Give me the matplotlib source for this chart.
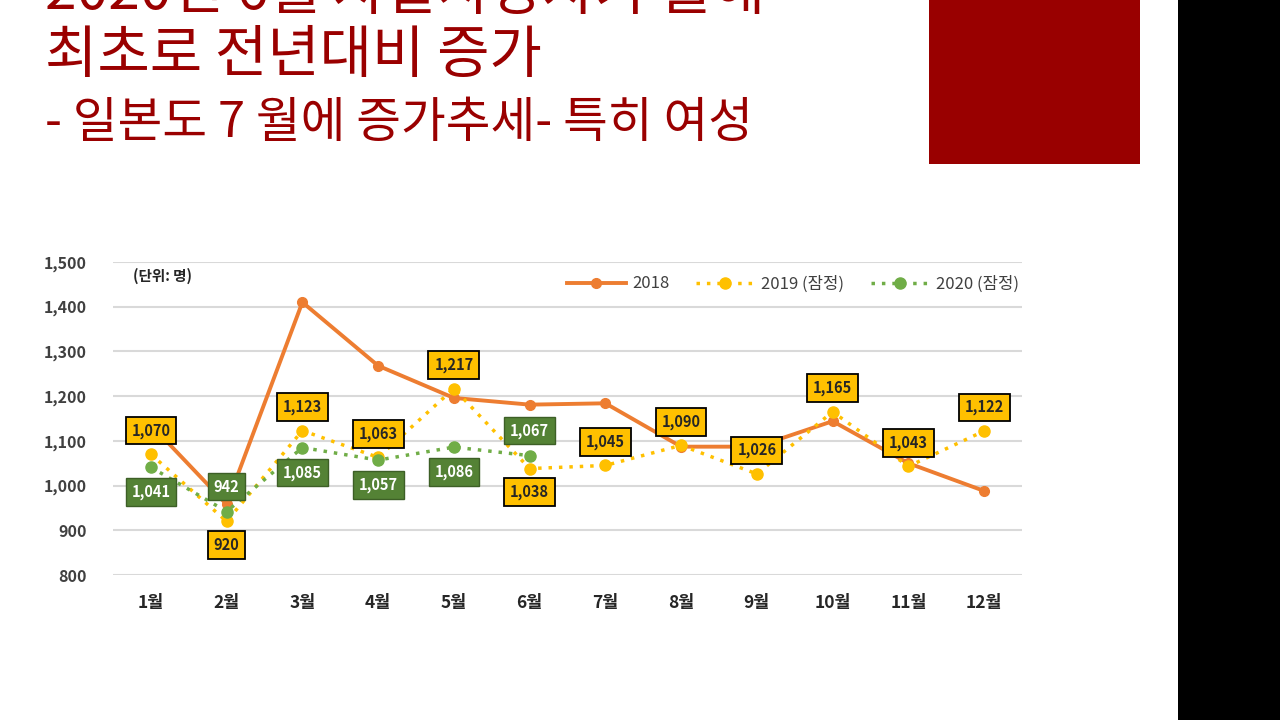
import numpy as np
import matplotlib.pyplot as plt
from matplotlib.patches import Rectangle

plt.rcParams['font.family'] = ['Noto Sans CJK KR', 'DejaVu Sans']

MONTHS = ['1월', '2월', '3월', '4월', '5월', '6월', '7월', '8월', '9월', '10월', '11월', '12월']
Y2018 = [1136, 958, 1410, 1268, 1196, 1181, 1184, 1087, 1087, 1144, 1050, 988]
Y2019 = [1070, 920, 1123, 1063, 1217, 1038, 1045, 1090, 1026, 1165, 1043, 1122]
Y2020 = [1041, 942, 1085, 1057, 1086, 1067]
# label above (+1) or below (-1) the point
POS2019 = [1, -1, 1, 1, 1, -1, 1, 1, 1, 1, 1, 1]
POS2020 = [-1, 1, -1, -1, -1, 1]
YTICKS = [800, 900, 1000, 1100, 1200, 1300, 1400, 1500]

TITLE1 = '2020년 6월 자살사망자가 올해'
TITLE2 = '최초로 전년대비 증가'
TITLE3 = '- 일본도 7 월에 증가추세- 특히 여성'

RED = '#9a0000'
ORANGE = '#ED7D31'
YELLOW = '#FFC000'
GREEN = '#70AD47'
DGREEN = '#548235'

fig = plt.figure(figsize=(12.8, 7.2), dpi=100)
fig.patch.set_facecolor('white')

# slide decorations
fig.add_artist(Rectangle((1178 / 1280, 0), 102 / 1280, 1, transform=fig.transFigure,
                         facecolor='black', edgecolor='none'))
fig.add_artist(Rectangle((929 / 1280, 1 - 164 / 720), 211 / 1280, 164 / 720,
                         transform=fig.transFigure, facecolor='#990000', edgecolor='none'))

# first title line is cut by the top edge, as in the slide
fig.text(45 / 1280, 1 - (-7) / 720, TITLE1, fontsize=41, color=RED, va='center', ha='left')
fig.text(45 / 1280, 1 - 56 / 720, TITLE2, fontsize=41, color=RED, va='center', ha='left')
fig.text(45 / 1280, 1 - 123 / 720, TITLE3, fontsize=35, color=RED, va='center', ha='left',
         style='italic')

ax = fig.add_axes([113 / 1280, 145 / 720, 909 / 1280, 313 / 720])
x = np.arange(len(MONTHS))

ax.plot(x, Y2018, color=ORANGE, lw=2.8, marker='o', ms=7, label='2018', zorder=3)
ax.plot(x, Y2019, color=YELLOW, lw=2.5, ls=(0, (1, 2)), marker='o', ms=8,
        label='2019 (잠정)', zorder=4)
ax.plot(x[:len(Y2020)], Y2020, color=GREEN, lw=2.5, ls=(0, (1, 2)), marker='o', ms=8,
        label='2020 (잠정)', zorder=5)

for i, v in enumerate(Y2019):
    ax.annotate(format(v, ','), (x[i], v), xytext=(0, 17 * POS2019[i]),
                textcoords='offset points', ha='center', va='center',
                fontsize=10.5, fontweight='bold', color='#262626', zorder=10,
                bbox=dict(boxstyle='square,pad=0.4', fc=YELLOW, ec='black', lw=1.3))
for i, v in enumerate(Y2020):
    ax.annotate(format(v, ','), (x[i], v), xytext=(0, 18 * POS2020[i]),
                textcoords='offset points', ha='center', va='center',
                fontsize=10.5, fontweight='bold', color='white', zorder=10,
                bbox=dict(boxstyle='square,pad=0.4', fc=DGREEN, ec='#3d5f26', lw=1.0))

ax.set_xlim(-0.5, 11.5)
ax.set_ylim(800, 1500)
ax.set_yticks(YTICKS)
ax.set_yticklabels([format(v, ',') for v in YTICKS])
ax.set_xticks(x)
ax.set_xticklabels(MONTHS)
ax.grid(axis='y', color='#d9d9d9', lw=1.5)
ax.set_axisbelow(True)
for s in ax.spines.values():
    s.set_visible(False)
ax.tick_params(axis='both', length=0, labelsize=11.5, labelcolor='#404040')
ax.tick_params(axis='y', pad=19)
ax.tick_params(axis='x', labelsize=12.5, pad=14, labelcolor='#262626')
for lab in ax.get_xticklabels() + ax.get_yticklabels():
    lab.set_fontweight('bold')

ax.text(0.022, 0.955, '(단위: 명)', transform=ax.transAxes, fontsize=10.5,
        fontweight='bold', color='#262626', va='center', ha='left')

leg = ax.legend(loc='center right', bbox_to_anchor=(1.013, 0.93), ncol=3, frameon=False,
                fontsize=12, handlelength=3.5, columnspacing=1.6, handletextpad=0.4)
for t in leg.get_texts():
    t.set_color('#404040')

fig.savefig('out.png', dpi=100)
